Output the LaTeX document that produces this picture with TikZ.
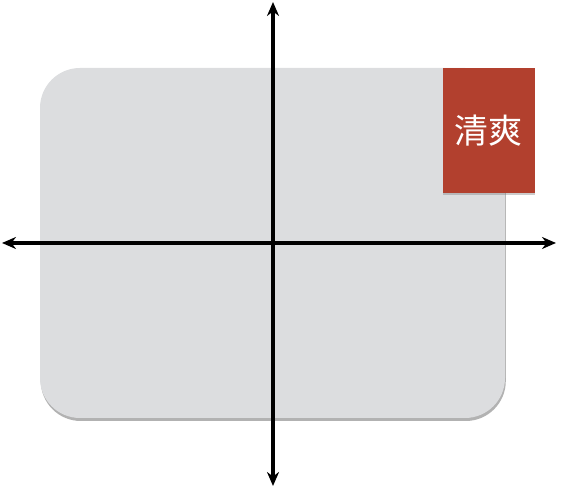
\documentclass[tikz,border=0pt]{standalone}
\usepackage{fontspec}
\newfontfamily\cjk{Noto Sans CJK SC}
\usepackage{tikz}
\usetikzlibrary{positioning,arrows.meta,shadows}

\definecolor{panelgray}{RGB}{220,221,223}
\definecolor{tagred}{RGB}{178,64,46}

\begin{document}
\begin{tikzpicture}[
    x=0.5pt, y=-0.5pt,
    panel/.style={fill=panelgray, rounded corners=20pt, minimum width=232.5pt,
                  minimum height=175pt, inner sep=0pt,
                  drop shadow={shadow xshift=0.4pt, shadow yshift=-1.5pt,
                               opacity=0.5, fill=black!60}},
    tag/.style={fill=tagred, minimum width=46pt, minimum height=62.5pt,
                inner sep=0pt, text=white, font=\cjk\fontsize{17}{19}\selectfont,
                drop shadow={shadow xshift=0.4pt, shadow yshift=-1.2pt,
                             opacity=0.4}},
    axis/.style={{Stealth[length=7pt,width=6pt]}-{Stealth[length=7pt,width=6pt]},
                 line width=1.9pt, black},
  ]
  \useasboundingbox (0,0) rectangle (564,491);

  % --- background panel and label ---
  \node[panel] (board) at (272.5,243) {};
  \node[tag] (fresh) at (488.5,130.5) {清爽};

  % --- axes ---
  \coordinate (xl) at (2,243);
  \coordinate (xr) at (556,243);
  \coordinate (yt) at (273,2);
  \coordinate (yb) at (273,486);
  \draw[axis] (xl) -- (xr);
  \draw[axis] (yb) -- (yt);
\end{tikzpicture}
\end{document}
